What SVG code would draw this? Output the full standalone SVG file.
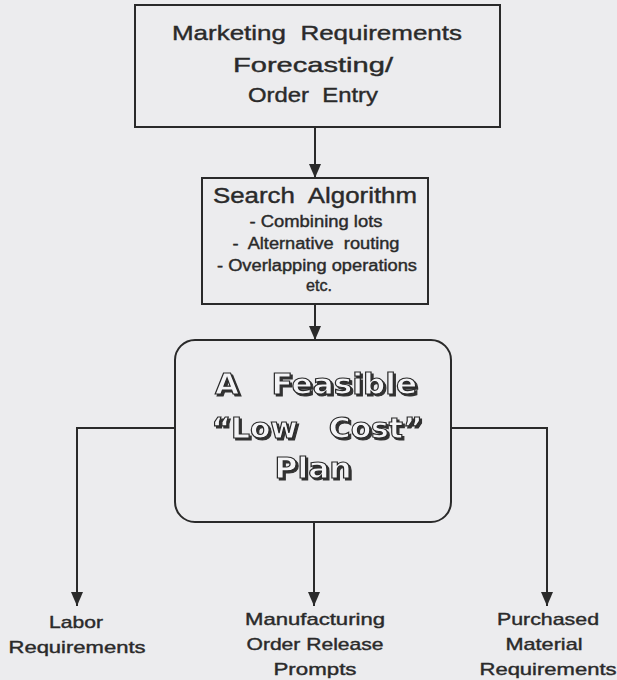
<svg xmlns="http://www.w3.org/2000/svg" width="617" height="680" viewBox="0 0 617 680">
<defs>
<style>
.bg{fill:#ececee}
.box{fill:#ececee;stroke:#2a2a2a;stroke-width:2}
.t{font-family:"Liberation Sans",Arial,sans-serif;fill:#2a2a2a;stroke:#2a2a2a;stroke-width:0.4;text-anchor:middle;white-space:pre}
.big{font-size:21px}
.mid{font-size:22px}
.sub{font-size:16px}
.lab{font-size:17px}
.ol{font-family:"DejaVu Sans","Liberation Sans",sans-serif;font-weight:bold;font-size:28px;text-anchor:middle;fill:#f4f4f6;stroke:#2a2a2a;stroke-width:1.1;white-space:pre}
.conn{fill:none;stroke:#2a2a2a;stroke-width:2}
</style>
<filter id="shadow" x="-10%" y="-20%" width="120%" height="150%">
<feOffset in="SourceAlpha" dx="1.8" dy="1.8" result="off"/>
<feFlood flood-color="#333333" result="col"/>
<feComposite in="col" in2="off" operator="in" result="sh"/>
<feMerge><feMergeNode in="sh"/><feMergeNode in="SourceGraphic"/></feMerge>
</filter>
<marker id="ah" viewBox="0 0 14 12" refX="14" refY="6" markerWidth="14" markerHeight="12" markerUnits="userSpaceOnUse" orient="auto">
<path d="M0,0 L14,6 L0,12 z" fill="#2a2a2a"/>
</marker>
</defs>
<rect class="bg" x="0" y="0" width="617" height="680"/>

<g id="connectors">
<line class="conn" x1="315" y1="127" x2="315" y2="178" marker-end="url(#ah)"/>
<line class="conn" x1="315" y1="304" x2="315" y2="340" marker-end="url(#ah)"/>
<polyline class="conn" points="175,428 77,428 77,606" marker-end="url(#ah)"/>
<polyline class="conn" points="451,428 547,428 547,606" marker-end="url(#ah)"/>
<line class="conn" x1="314" y1="522" x2="314" y2="606" marker-end="url(#ah)"/>
</g>

<g id="marketing">
<rect class="box" x="135" y="5" width="365" height="122"/>
<text class="t big" x="317" y="40" textLength="290" lengthAdjust="spacingAndGlyphs" xml:space="preserve">Marketing  Requirements</text>
<text class="t big" x="313" y="72" textLength="160" lengthAdjust="spacingAndGlyphs">Forecasting/</text>
<text class="t big" x="313" y="102" textLength="130" lengthAdjust="spacingAndGlyphs" xml:space="preserve">Order  Entry</text>
</g>

<g id="search">
<rect class="box" x="202" y="178" width="226" height="126"/>
<text class="t mid" x="315" y="203" textLength="204" lengthAdjust="spacingAndGlyphs" xml:space="preserve">Search  Algorithm</text>
<text class="t sub" x="316" y="227" textLength="133" lengthAdjust="spacingAndGlyphs">- Combining lots</text>
<text class="t sub" x="316" y="249" textLength="167" lengthAdjust="spacingAndGlyphs" xml:space="preserve">-  Alternative  routing</text>
<text class="t sub" x="317" y="271" textLength="200" lengthAdjust="spacingAndGlyphs">- Overlapping operations</text>
<text class="t sub" x="319" y="291" textLength="26" lengthAdjust="spacingAndGlyphs">etc.</text>
</g>

<g id="plan">
<rect class="box" x="175" y="340" width="276" height="182" rx="20" ry="20"/>
<g filter="url(#shadow)">
<text class="ol" x="316" y="394" textLength="202" lengthAdjust="spacingAndGlyphs" xml:space="preserve">A   Feasible</text>
<text class="ol" x="317" y="438" textLength="211" lengthAdjust="spacingAndGlyphs" xml:space="preserve">“Low   Cost”</text>
<text class="ol" x="313" y="478" textLength="77" lengthAdjust="spacingAndGlyphs">Plan</text>
</g>
</g>

<g id="labor">
<text class="t lab" x="76" y="628" textLength="54" lengthAdjust="spacingAndGlyphs">Labor</text>
<text class="t lab" x="77" y="653" textLength="137" lengthAdjust="spacingAndGlyphs">Requirements</text>
</g>

<g id="manufacturing">
<text class="t lab" x="315" y="625" textLength="140" lengthAdjust="spacingAndGlyphs">Manufacturing</text>
<text class="t lab" x="315" y="650" textLength="137" lengthAdjust="spacingAndGlyphs">Order Release</text>
<text class="t lab" x="315" y="675" textLength="83" lengthAdjust="spacingAndGlyphs">Prompts</text>
</g>

<g id="purchased">
<text class="t lab" x="548" y="625" textLength="102" lengthAdjust="spacingAndGlyphs">Purchased</text>
<text class="t lab" x="544" y="650" textLength="77" lengthAdjust="spacingAndGlyphs">Material</text>
<text class="t lab" x="548" y="675" textLength="137" lengthAdjust="spacingAndGlyphs">Requirements</text>
</g>
</svg>
